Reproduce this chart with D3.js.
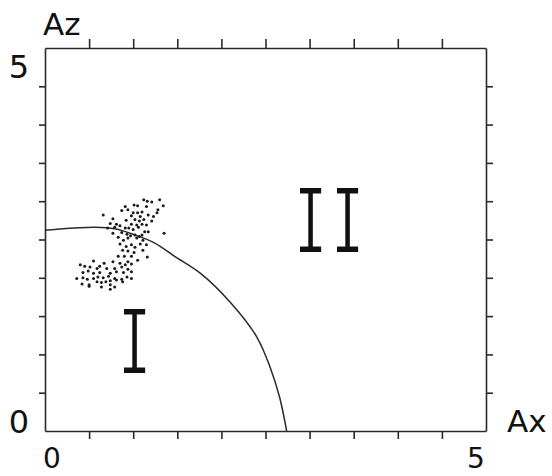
<!DOCTYPE html>
<html>
<head>
<meta charset="utf-8">
<script src="https://cdn.jsdelivr.net/npm/d3@7"></script>
<style>
  html, body { margin: 0; padding: 0; background: #fff; }
  svg { display: block; }
  text { fill: #111; }
</style>
</head>
<body>
<div id="chart"></div>
<script>
// Boundary curve between regime I and regime II (Ax, Az)
const boundaryAx = [0, 0.34, 0.57, 0.79, 1.02, 1.25, 1.47, 1.76, 2.10, 2.40, 2.55, 2.66, 2.74];
const boundaryAz = [2.62, 2.65, 2.66, 2.64, 2.56, 2.45, 2.28, 2.06, 1.68, 1.23, 0.84, 0.44, 0];

// Measured amplitude pairs
const pointsAx = [
  1.12, 1.16, 1.21, 1.30, 0.91, 0.94, 1.01, 1.05, 1.15, 1.34,
  0.87, 1.00, 1.05, 1.10, 1.28, 1.27, 0.66, 0.98, 1.08, 1.17,
  1.23, 0.77, 0.92, 1.02, 1.07, 1.12, 1.21, 0.74, 0.81, 0.85,
  0.98, 1.04, 1.10, 1.15, 0.71, 0.79, 0.91, 0.95, 1.00, 1.06,
  1.13, 1.35, 0.77, 0.87, 0.93, 0.97, 1.02, 1.07, 1.10, 1.17,
  0.83, 0.89, 0.94, 1.04, 1.11, 0.85, 0.92, 0.98, 1.02, 1.08,
  1.15, 0.88, 0.94, 1.01, 1.11, 1.16, 0.83, 0.90, 0.98, 1.05,
  0.94, 0.55, 0.67, 0.77, 0.85, 0.91, 0.98, 0.40, 0.45, 0.51,
  0.59, 0.62, 0.70, 0.79, 0.87, 0.94, 0.43, 0.49, 0.55, 0.62,
  0.74, 0.81, 0.89, 0.98, 0.36, 0.43, 0.48, 0.55, 0.60, 0.66,
  0.72, 0.79, 0.87, 0.93, 0.98, 0.42, 0.50, 0.59, 0.64, 0.69,
  0.74, 0.81, 0.88, 0.50, 0.64, 0.74, 0.79, 0.74
];
const pointsAz = [
  3.02, 3.00, 2.99, 3.02, 2.93, 2.89, 2.95, 2.94, 2.93, 2.94,
  2.88, 2.85, 2.85, 2.86, 2.89, 2.85, 2.82, 2.81, 2.80, 2.82,
  2.80, 2.77, 2.75, 2.76, 2.74, 2.76, 2.74, 2.71, 2.70, 2.68,
  2.70, 2.69, 2.70, 2.69, 2.65, 2.66, 2.65, 2.65, 2.63, 2.66,
  2.60, 2.58, 2.58, 2.59, 2.57, 2.55, 2.56, 2.54, 2.56, 2.60,
  2.53, 2.49, 2.52, 2.52, 2.49, 2.44, 2.41, 2.43, 2.40, 2.44,
  2.43, 2.36, 2.35, 2.33, 2.36, 2.27, 2.28, 2.28, 2.28, 2.23,
  2.21, 2.22, 2.19, 2.21, 2.19, 2.17, 2.18, 2.17, 2.15, 2.14,
  2.12, 2.15, 2.12, 2.12, 2.14, 2.11, 2.07, 2.09, 2.06, 2.07,
  2.06, 2.08, 2.07, 2.08, 1.99, 2.00, 1.98, 1.99, 2.01, 2.00,
  2.02, 1.99, 1.98, 2.01, 1.99, 1.92, 1.91, 1.95, 1.94, 1.95,
  1.96, 1.97, 1.95, 1.89, 1.88, 1.91, 1.88, 1.85
];

// Axis ticks and end labels
const tickValues = [0.5, 1, 1.5, 2, 2.5, 3, 3.5, 4, 4.5];
const endLabels = ["0", "5"];
const axisNames = { x: "Ax", z: "Az" };

// Regime labels: centre Ax and baseline Az
const regimeLabels = ["I", "II"];
const regimeAx = [1.015, 3.22];
const regimeAz = [0.76, 2.34];

const width = 552, height = 476;
const margin = { left: 45, top: 48, right: 66, bottom: 45 };
const innerW = width - margin.left - margin.right;
const innerH = height - margin.top - margin.bottom;

const x = d3.scaleLinear().domain([0, 5]).range([0, innerW]);
const y = d3.scaleLinear().domain([0, 5]).range([innerH, 0]);

const svg = d3.select("#chart").append("svg")
  .attr("width", width).attr("height", height);

const g = svg.append("g").attr("transform", `translate(${margin.left},${margin.top})`);

const stroke = "#2a2a2a";

function styleAxis(sel) {
  sel.selectAll("path.domain").attr("stroke", stroke).attr("stroke-width", 1.6);
  sel.selectAll(".tick line").attr("stroke", stroke).attr("stroke-width", 1.6);
  sel.selectAll(".tick text").remove();
}

g.append("g").attr("transform", `translate(0,${innerH})`)
  .call(d3.axisBottom(x).tickValues(tickValues).tickSize(8).tickSizeOuter(0).tickFormat(""))
  .call(styleAxis);
g.append("g")
  .call(d3.axisTop(x).tickValues(tickValues).tickSize(9).tickSizeOuter(0).tickFormat(""))
  .call(styleAxis);
g.append("g")
  .call(d3.axisLeft(y).tickValues(tickValues).tickSize(6).tickSizeOuter(0).tickFormat(""))
  .call(styleAxis);
g.append("g").attr("transform", `translate(${innerW},0)`)
  .call(d3.axisRight(y).tickValues(tickValues).tickSize(7).tickSizeOuter(0).tickFormat(""))
  .call(styleAxis);

// Boundary curve
const boundary = boundaryAx.map((d, i) => [d, boundaryAz[i]]);
g.append("path")
  .datum(boundary)
  .attr("fill", "none")
  .attr("stroke", stroke)
  .attr("stroke-width", 1.5)
  .attr("d", d3.line().x(d => x(d[0])).y(d => y(d[1])).curve(d3.curveCatmullRom.alpha(0.5)));

// Scatter of measurements
const pts = pointsAx.map((d, i) => [d, pointsAz[i]]);
g.append("g").selectAll("circle")
  .data(pts)
  .join("circle")
  .attr("cx", d => x(d[0]))
  .attr("cy", d => y(d[1]))
  .attr("r", 1.5)
  .attr("fill", "#1a1a1a");

// Regime numerals: serifed capital I, stretched vertically
const numeralGap = 37;   // distance between the two strokes of "II"
regimeLabels.forEach((lab, i) => {
  const holder = g.append("g")
    .attr("transform", `translate(${x(regimeAx[i])},${y(regimeAz[i])}) scale(1,1.33)`);
  const t = holder.append("text")
    .attr("font-family", "Inter, sans-serif")
    .attr("font-weight", 300)
    .style("font-feature-settings", "'cv08' 1")
    .attr("font-size", 66)
    .attr("fill", "#111")
    .text(lab);
  const adv = t.node().getSubStringLength(0, 1);
  if (lab.length > 1) {
    const ls = numeralGap - adv;
    t.attr("letter-spacing", ls);
    const mid = (adv / 2 + (adv + ls + adv / 2)) / 2;
    t.attr("x", -mid);
  } else {
    t.attr("x", -adv / 2);
  }
});

// Axis end labels and names
const labelFont = "'DejaVu Sans', sans-serif";
const fs = 32;
svg.append("text").attr("x", 19).attr("y", margin.top + y(5) + 30)
  .attr("text-anchor", "middle").attr("font-family", labelFont).attr("font-size", fs).text(endLabels[1]);
svg.append("text").attr("x", 19).attr("y", margin.top + y(0) + 2)
  .attr("text-anchor", "middle").attr("font-family", labelFont).attr("font-size", fs).text(endLabels[0]);
svg.append("text").attr("x", margin.left + x(0) + 7).attr("y", height - 8)
  .attr("text-anchor", "middle").attr("font-family", labelFont).attr("font-size", 28).text(endLabels[0]);
svg.append("text").attr("x", margin.left + x(5) - 10).attr("y", height - 8)
  .attr("text-anchor", "middle").attr("font-family", labelFont).attr("font-size", 28).text(endLabels[1]);
svg.append("text").attr("x", 43).attr("y", 35)
  .attr("font-family", labelFont).attr("font-size", 31).text(axisNames.z);
svg.append("text").attr("x", 507).attr("y", 432)
  .attr("font-family", labelFont).attr("font-size", 31).text(axisNames.x);
</script>
</body>
</html>
